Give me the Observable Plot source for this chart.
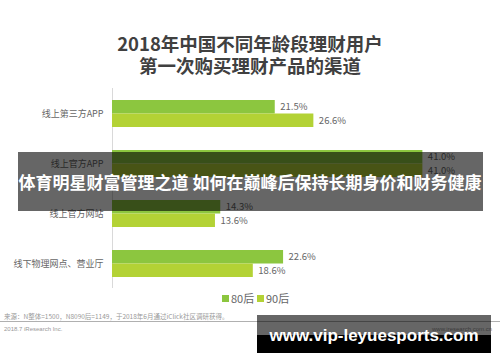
<!DOCTYPE html>
<html><head><meta charset="utf-8">
<script src="https://cdn.jsdelivr.net/npm/d3@7"></script>
<script src="https://cdn.jsdelivr.net/npm/@observablehq/plot@0.6"></script>
<style>
body{margin:0;background:#fff;font-family:"Noto Sans CJK SC","Noto Sans",sans-serif;}
#wrap{position:relative;width:500px;height:362px;overflow:hidden;background:#fff;}
.abs{position:absolute;white-space:nowrap;}
.title{left:0;width:500px;text-align:center;font-weight:bold;font-size:18.5px;color:#404040;line-height:20px;height:20px;}
.leg{font-size:11px;color:#666;line-height:14px;}
.sw{display:inline-block;width:7px;height:7px;margin-right:2px;vertical-align:1px;}
</style></head><body>
<div id="wrap">
  <div class="abs title" style="top:33px">2018年中国不同年龄段理财用户</div>
  <div class="abs title" style="top:55px">第一次购买理财产品的渠道</div>
  <div id="chart" class="abs" style="left:0;top:88px"></div>
  <div id="legend"></div>
  <div class="abs" style="left:4px;top:312px;font-size:6.5px;color:#999;line-height:8px">来源：N整体=1500，N8090后=1149，于2018年6月通过iClick社区调研获得。</div>
  <div class="abs" style="left:0;top:321px;width:500px;height:1px;background:#b0b0b0"></div>
  <div class="abs" style="left:4px;top:325px;font-size:6px;color:#999;line-height:8px;font-family:'Liberation Sans',sans-serif">2018.7 iResearch Inc.</div>
  <div class="abs" style="left:432px;top:325px;font-size:6px;color:#999;line-height:8px;font-family:'Liberation Sans',sans-serif">www.iresearch.com.cn</div>
  <div class="abs" style="left:18px;top:152px;width:465px;height:59px;background:rgba(0,0,0,0.6)"></div>
  <div class="abs" style="left:0;top:152px;width:500px;height:59px;line-height:59px;text-align:center;color:#fff;font-weight:bold;font-size:17px">体育明星财富管理之道 如何在巅峰后保持长期身价和财务健康</div>
  <div class="abs" style="left:257px;top:315px;width:234px;height:20px;background:rgba(0,0,0,0.6)"></div>
  <div class="abs" style="left:257px;top:335px;width:234px;height:18px;background:#000"></div>
  <div class="abs" style="left:257px;top:315px;width:234px;height:38px;line-height:42px;text-align:center;color:#fff;font-weight:bold;font-size:17px;font-family:'Liberation Sans',Arial,sans-serif">www.vip-leyuesports.com</div>
</div>
<script>
const categories = ["线上第三方APP", "线上官方APP", "线上官方网站", "线下物理网点、营业厅"];
const seriesNames = ["80后", "90后"];
const values80 = [21.5, 41.0, 14.3, 22.6];
const values90 = [26.6, 41.0, 13.6, 18.6];
const colors = ["#8cc63f", "#b3d235"];

const d80 = categories.map((c, i) => ({cat: c, v: values80[i]}));
const d90 = categories.map((c, i) => ({cat: c, v: values90[i]}));
const fmt = d => d.v.toFixed(1) + "%";

const chart = Plot.plot({
  width: 500, height: 200,
  marginLeft: 112, marginRight: 9.5, marginTop: 0, marginBottom: 0,
  style: {fontFamily: "'Noto Sans CJK SC', sans-serif", fontSize: "9px", color: "#666", background: "transparent"},
  x: {domain: [0, 50], axis: null},
  y: {domain: categories, paddingInner: 0.46, paddingOuter: 0.23, label: null, tickSize: 0, tickPadding: 9},
  marks: [
    Plot.ruleX([0], {stroke: "#d9d9d9"}),
    Plot.barX(d80, {x: "v", y: "cat", fill: colors[0], insetBottom: 13.5}),
    Plot.barX(d90, {x: "v", y: "cat", fill: colors[1], insetTop: 13.5}),
    Plot.text(d80, {x: "v", y: "cat", text: fmt, dx: 5, dy: -6.75, textAnchor: "start", fill: "#666", fontSize: 9.5}),
    Plot.text(d90, {x: "v", y: "cat", text: fmt, dx: 5, dy: 6.75, textAnchor: "start", fill: "#666", fontSize: 9.5})
  ]
});
document.getElementById("chart").appendChild(chart);

const wrap = document.getElementById("wrap");
const legend = document.getElementById("legend");
seriesNames.forEach((s, i) => {
  const item = document.createElement("div");
  item.className = "abs leg";
  item.style.left = (222 + 35 * i) + "px";
  item.style.top = "291px";
  item.innerHTML = `<span class="sw" style="background:${colors[i]}"></span>${s}`;
  legend.appendChild(item);
});
</script>
</body></html>
